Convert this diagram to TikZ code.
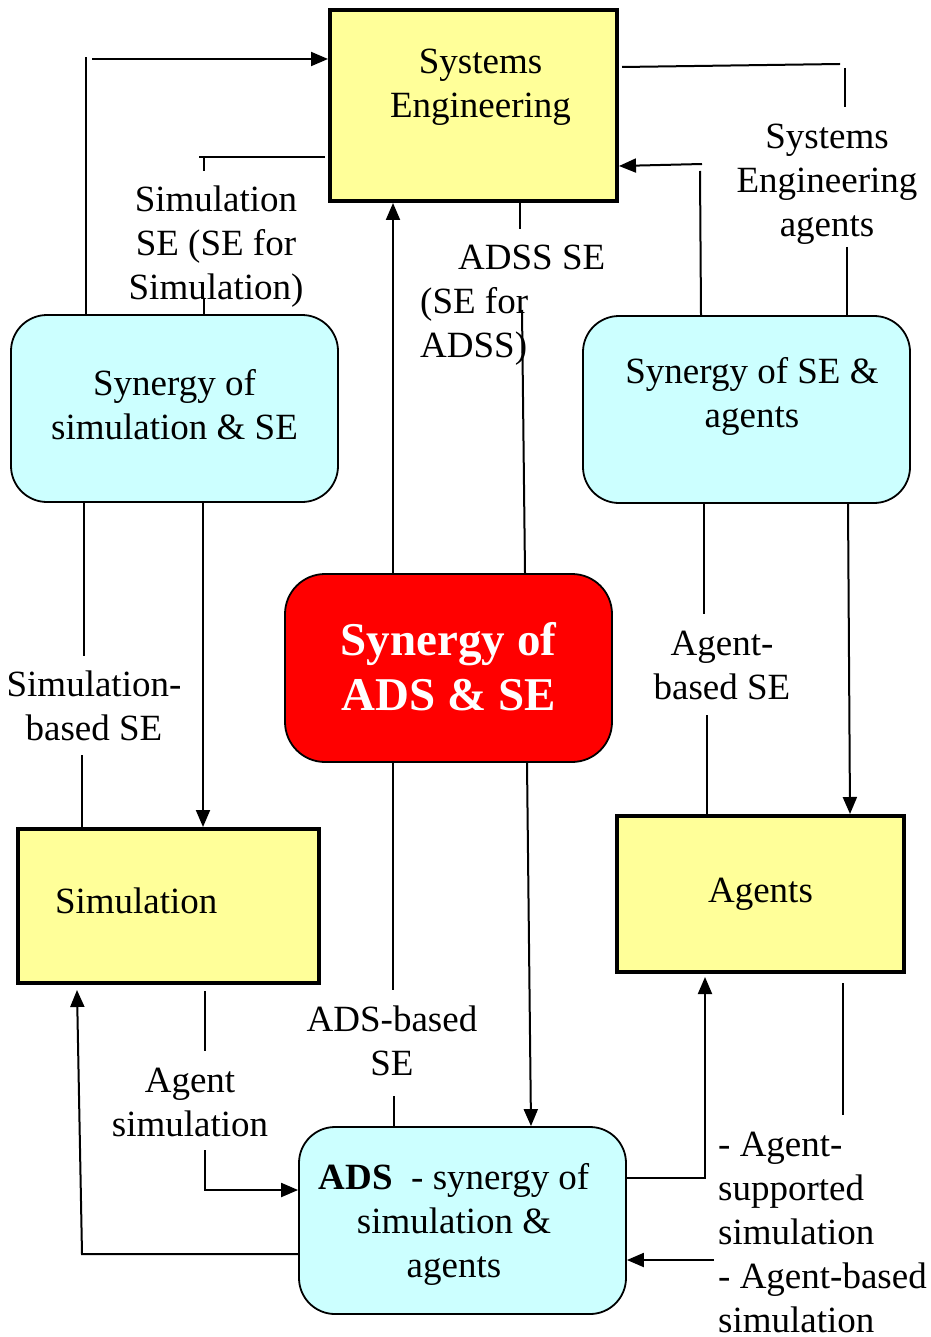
\documentclass[tikz,border=0pt]{standalone}
\usepackage{fontspec}
\setmainfont{Liberation Serif}
\usetikzlibrary{arrows.meta}
\definecolor{boxyellow}{HTML}{FFFF99}
\definecolor{boxcyan}{HTML}{CCFFFF}
\definecolor{boxred}{HTML}{FF0000}
\newcommand{\mylines}[2][c]{\begin{tabular}{@{}#1@{}}#2\end{tabular}}
\newcommand{\shiftup}[2]{\raisebox{#1}[\height][\depth]{#2}}
\begin{document}
\begin{tikzpicture}[x=1pt,y=-1pt,
  every node/.style={font=\fontsize{37}{44}\selectfont, inner sep=0pt},
  ybox/.style={draw, line width=4pt, fill=boxyellow, rectangle},
  cbox/.style={draw, line width=1.8pt, fill=boxcyan, rounded corners=36pt},
  rbox/.style={draw, line width=1.8pt, fill=boxred, rounded corners=40pt, text=white,
    font=\fontsize{47}{55}\selectfont\bfseries},
  conn/.style={line width=2pt},
  arr/.style={conn, -{Triangle[length=17pt,width=14pt]}}]
\useasboundingbox[fill=white] (0,0) rectangle (930,1337);

% boxes
\node[ybox, minimum width=287pt, minimum height=191pt] (se) at (473.5,105.5)
  {\hspace*{14pt}\shiftup{19pt}{\mylines{Systems\\Engineering}}};
\node[cbox, minimum width=327pt, minimum height=187pt] (simse) at (174.5,408.5)
  {\mylines{Synergy of\\simulation \& SE}};
\node[cbox, minimum width=327pt, minimum height=187pt] (seag) at (746.5,409.5)
  {\hspace*{11pt}\shiftup{13pt}{\mylines{Synergy of SE \&\\agents}}};
\node[rbox, minimum width=327pt, minimum height=188pt] (red) at (448.5,668)
  {\shiftup{-4pt}{\mylines{Synergy of\\ADS \& SE}}};
\node[ybox, minimum width=301pt, minimum height=154pt] (sim) at (168.5,906)
  {\shiftup{5pt}{\makebox[227pt][l]{Simulation}}};
\node[ybox, minimum width=287pt, minimum height=156pt] (agents) at (760.5,894)
  {Agents};
\node[cbox, minimum width=327pt, minimum height=187pt] (ads) at (462.5,1220.5)
  {\shiftup{-4pt}{\mylines{\textbf{ADS}\ \ - synergy of\\simulation \&\\agents}}\hspace*{17pt}};

% labels
\node (lsimse) at (216,247) {\mylines{Simulation\\SE (SE for\\Simulation)}};
\node[anchor=west] (ladss) at (420,305) {\mylines[l]{\hspace*{38pt}ADSS SE\\(SE for\\ADSS)}};
\node (lsea) at (827,184) {\mylines{Systems\\Engineering\\agents}};
\node (lsimb) at (94,710) {\mylines{Simulation-\\based SE}};
\node (lagb) at (722,669) {\mylines{Agent-\\based SE}};
\node (ladsb) at (392,1045) {\mylines{ADS-based\\SE}};
\node (lags) at (190,1106) {\mylines{Agent\\simulation}};
\node[anchor=west] (lasup) at (718,1236)
  {\mylines[l]{- Agent-\\supported\\simulation\\- Agent-based\\simulation}};

% connectors
\coordinate (c1) at (86,57);
\draw[conn] (simse.north -| c1) -- (c1);
\coordinate (c2) at (92,59);
\draw[arr] (c2) -- (se.west |- c2);

\draw[conn] (325,157) -- (199,157) (204,157) -- (204,171);
\draw[conn] (204,298) -- (simse.north -| 204,0);

\draw[conn] (se.south -| 520,0) -- (520,229);
\draw[conn] (522,310) -- (red.north -| 525,0);

\draw[arr] (red.north -| 393,0) -- (se.south -| 393,0);

\draw[conn] (622,67) -- (840,64);
\draw[conn] (845,68) -- (845,107);
\draw[conn] (847,247) -- (seag.north -| 847,0);

\draw[conn] (seag.north -| 701,0) -- (700,171);
\draw[arr] (702,164) -- (se.east |- 0,166);

\draw[conn] (simse.south -| 84,0) -- (84,656);
\draw[conn] (82,755) -- (sim.north -| 82,0);

\draw[arr] (simse.south -| 203,0) -- (sim.north -| 203,0);

\draw[conn] (red.south -| 393,0) -- (393,990);
\draw[conn] (394,1096) -- (ads.north -| 394,0);

\draw[arr] (red.south -| 527,0) -- (ads.north -| 531,0);

\draw[conn] (seag.south -| 704,0) -- (704,614);
\draw[conn] (707,715) -- (agents.north -| 707,0);

\draw[arr] (seag.south -| 848,0) -- (agents.north -| 850,0);

\draw[conn] (205,991) -- (205,1051);
\draw[arr] (205,1150) -- (205,1190) -- (ads.west |- 0,1190);

\draw[arr] (ads.west |- 0,1254) -- (82,1254) -- (77,990);

\draw[arr] (ads.east |- 0,1178) -- (705,1178) -- (705,977);

\draw[conn] (843,983) -- (843,1115);
\draw[arr] (714,1260) -- (ads.east |- 0,1260);
\end{tikzpicture}
\end{document}
